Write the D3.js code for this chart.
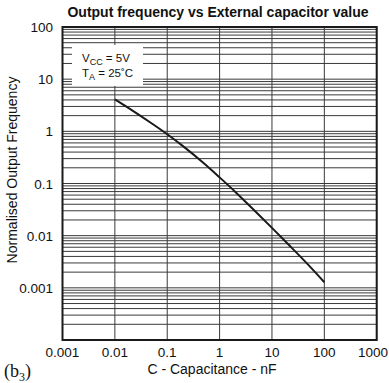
<!DOCTYPE html>
<html>
<head>
<meta charset="utf-8">
<script src="https://cdn.jsdelivr.net/npm/d3@7"></script>
<style>
  html, body { margin: 0; padding: 0; background: #fff; }
  svg { display: block; font-family: "Liberation Sans", Arial, Helvetica, sans-serif; }
</style>
</head>
<body>
<svg id="chart" width="389" height="383"></svg>
<script>
// ---- data ----
const capacitance = [0.01, 0.02, 0.05, 0.1, 0.2, 0.5, 1, 2, 5, 10, 20, 50, 100];
const frequency   = [4.1, 2.64, 1.43, 0.88, 0.52, 0.244, 0.131, 0.069, 0.0281, 0.0141, 0.00698, 0.00272, 0.00128];
const xTicks = [0.001, 0.01, 0.1, 1, 10, 100, 1000];
const xTickLabels = ["0.001", "0.01", "0.1", "1", "10", "100", "1000"];
const yTicks = [0.001, 0.01, 0.1, 1, 10, 100];
const yTickLabels = ["0.001", "0.01", "0.1", "1", "10", "100"];
const titleText = "Output frequency vs External capacitor value";
const xTitle = "C - Capacitance - nF";
const yTitle = "Normalised Output Frequency";

// ---- layout ----
const L = 62.5, R = 376.7, T = 27, B = 340;
const svg = d3.select("#chart");
const x = d3.scaleLog().domain([0.001, 1000]).range([L, R]);
const y = d3.scaleLog().domain([0.0001, 100]).range([B, T]);

// horizontal grid: every 1..9 x 10^k
const hLines = [];
for (let e = -4; e <= 1; e++) {
  for (let m = 1; m <= 9; m++) hLines.push(m * Math.pow(10, e));
}
hLines.push(100);
const grid = svg.append("g");
grid.selectAll("line.h").data(hLines).enter().append("line")
  .attr("x1", L).attr("x2", R)
  .attr("y1", d => y(d)).attr("y2", d => y(d))
  .attr("stroke", "#3a3a3a").attr("stroke-width", 1);
// vertical grid: decades
grid.selectAll("line.v").data(xTicks).enter().append("line")
  .attr("y1", T).attr("y2", B)
  .attr("x1", d => x(d)).attr("x2", d => x(d))
  .attr("stroke", "#3a3a3a").attr("stroke-width", 1);

// legend box (white, covers grid)
svg.append("rect").attr("x", 72).attr("y", 45).attr("width", 71).attr("height", 41).attr("fill", "#fff");
const leg1 = svg.append("text").attr("x", 82).attr("y", 62).attr("font-size", 11.5).attr("fill", "#111");
leg1.append("tspan").text("V");
leg1.append("tspan").attr("font-size", 9).attr("dy", 3).text("CC");
leg1.append("tspan").attr("dy", -3).text(" = 5V");
const leg2 = svg.append("text").attr("x", 82).attr("y", 77).attr("font-size", 11.5).attr("fill", "#111");
leg2.append("tspan").text("T");
leg2.append("tspan").attr("font-size", 9).attr("dy", 3).text("A");
leg2.append("tspan").attr("dy", -3).text(" = 25˚C");

// curve
const line = d3.line()
  .x((d, i) => x(capacitance[i]))
  .y((d, i) => y(frequency[i]))
  .curve(d3.curveMonotoneX);
svg.append("path").datum(frequency)
  .attr("d", line).attr("fill", "none")
  .attr("stroke", "#1a1a1a").attr("stroke-width", 2);

// frame
svg.append("rect").attr("x", L).attr("y", T).attr("width", R - L).attr("height", B - T)
  .attr("fill", "none").attr("stroke", "#1a1a1a").attr("stroke-width", 2);

// axes labels
const lastX = xTicks[xTicks.length - 1];
svg.selectAll("text.xt").data(xTicks).enter().append("text")
  .attr("x", d => d === lastX ? 388 : x(d)).attr("y", 357)
  .attr("text-anchor", d => d === lastX ? "end" : "middle")
  .attr("font-size", 13.5).attr("fill", "#111")
  .text((d, i) => xTickLabels[i]);
svg.selectAll("text.yt").data(yTicks).enter().append("text")
  .attr("x", 53).attr("y", d => y(d) + 5)
  .attr("text-anchor", "end").attr("font-size", 13.5).attr("fill", "#111")
  .text((d, i) => yTickLabels[i]);

// titles
svg.append("text").attr("x", 218).attr("y", 17).attr("text-anchor", "middle")
  .attr("font-size", 14).attr("font-weight", "bold").attr("fill", "#111").text(titleText);
svg.append("text").attr("x", 212).attr("y", 374).attr("text-anchor", "middle")
  .attr("font-size", 14).attr("fill", "#111").text(xTitle);
svg.append("text").attr("transform", "translate(17,170) rotate(-90)")
  .attr("text-anchor", "middle").attr("font-size", 14).attr("fill", "#111").text(yTitle);

// panel label
const pl = svg.append("text").attr("x", 4).attr("y", 377)
  .attr("font-family", "'Liberation Serif', 'Times New Roman', serif").attr("font-size", 18).attr("fill", "#111");
pl.append("tspan").text("(b");
pl.append("tspan").attr("font-size", 12).attr("dy", 4).text("3");
pl.append("tspan").attr("dy", -4).text(")");
</script>
</body>
</html>
